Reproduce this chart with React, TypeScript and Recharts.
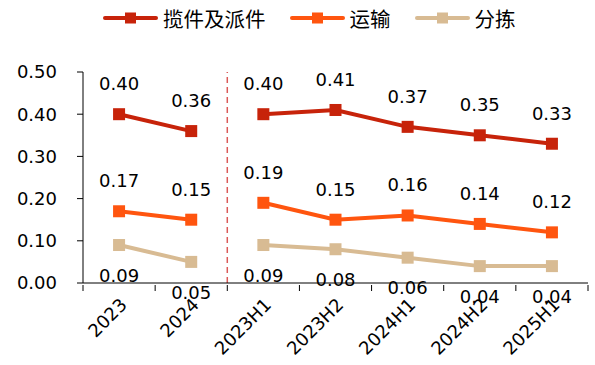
import { ComposedChart, Line, XAxis, YAxis, ReferenceLine } from 'recharts';

const categories = ['2023', '2024', '2023H1', '2023H2', '2024H1', '2024H2', '2025H1'];
// first two points are full years, the rest are half years (drawn as a separate segment)
const annualCount = 2;

const pickupDelivery = [0.4, 0.36, 0.4, 0.41, 0.37, 0.35, 0.33];
const transport = [0.17, 0.15, 0.19, 0.15, 0.16, 0.14, 0.12];
const sorting = [0.09, 0.05, 0.09, 0.08, 0.06, 0.04, 0.04];

const yTicks = [0, 0.1, 0.2, 0.3, 0.4, 0.5];

const series = [
  { key: 'pd', name: '揽件及派件', values: pickupDelivery, color: '#C7230A', labelPos: 'top' },
  { key: 'tr', name: '运输', values: transport, color: '#FF550F', labelPos: 'top' },
  { key: 'so', name: '分拣', values: sorting, color: '#D8BB93', labelPos: 'bottom' },
];

const W = 595;
const H = 365;
const margin = { top: 72, right: 7, left: 0, bottom: 0 };
const yAxisWidth = 83;
const band = (W - margin.left - margin.right - yAxisWidth) / categories.length;
const font = '"DejaVu Sans", Verdana, sans-serif';

const data = categories.map((c, i) => {
  const row: any = { name: c };
  series.forEach((s) => {
    if (i < annualCount) row[s.key + 'A'] = s.values[i];
    else row[s.key + 'H'] = s.values[i];
  });
  return row;
});

const SquareDot = (props: any) => {
  const { cx, cy, fill, index } = props;
  if (cx == null || cy == null) return <g key={index} />;
  return <rect key={index} x={cx - 6} y={cy - 6} width={12} height={12} fill={fill} />;
};

const XTick = (props: any) => {
  const { x, y, payload, index } = props;
  const axisY = y - 3;
  const tx = x + 9;
  const ty = y + 15;
  return (
    <g>
      <line x1={x - band / 2} x2={x - band / 2} y1={axisY - 3} y2={axisY + 3} stroke="#000" />
      {index === categories.length - 1 && (
        <line x1={x + band / 2} x2={x + band / 2} y1={axisY - 3} y2={axisY + 3} stroke="#000" />
      )}
      <text
        x={tx}
        y={ty}
        transform={`rotate(-45, ${tx}, ${ty})`}
        textAnchor="end"
        fontSize={18}
        fontFamily={font}
        fill="#000"
      >
        {payload.value}
      </text>
    </g>
  );
};

const ChartLegend = () => (
  <div
    style={{
      position: 'absolute',
      top: 4,
      left: 103,
      display: 'flex',
      gap: 24,
    }}
  >
    {series.map((s) => (
      <div key={s.key} style={{ display: 'flex', alignItems: 'center', gap: 5 }}>
        <svg width={55} height={14}>
          <line x1={2} x2={53} y1={7} y2={7} stroke={s.color} strokeWidth={4} strokeLinecap="round" />
          <rect x={22} y={1.5} width={11} height={11} fill={s.color} />
        </svg>
        <span style={{ fontFamily: '"Noto Sans CJK SC"', fontSize: 20.5, color: '#000', lineHeight: '28px' }}>
          {s.name}
        </span>
      </div>
    ))}
  </div>
);

export default function App() {
  return (
    <div style={{ position: 'relative', width: W, height: H, background: '#fff' }}>
      <style>{'body{margin:0}'}</style>
      <ChartLegend />
      <ComposedChart width={W} height={H} data={data} margin={margin}>
        <XAxis
          dataKey="name"
          scale="band"
          axisLine={{ stroke: '#000' }}
          tickLine={false}
          tick={<XTick />}
          height={82}
          interval={0}
        />
        <YAxis
          domain={[0, 0.5]}
          ticks={yTicks}
          width={yAxisWidth}
          axisLine={{ stroke: '#000' }}
          tickLine={{ stroke: '#000' }}
          tickSize={6}
          tickMargin={20}
          tick={{ fontSize: 18, fontFamily: font, fill: '#000' }}
          tickFormatter={(v) => Number(v).toFixed(2)}
        />
        <ReferenceLine
          x={categories[annualCount - 1]}
          position="end"
          stroke="#DA5A58"
          strokeDasharray="6 4"
          strokeWidth={1.5}
        />
        {series.flatMap((s) =>
          ['A', 'H'].map((part) => (
            <Line
              key={s.key + part}
              dataKey={s.key + part}
              name={s.name}
              stroke={s.color}
              fill={s.color}
              strokeWidth={4}
              dot={<SquareDot fill={s.color} />}
              activeDot={false}
              isAnimationActive={false}
              connectNulls={false}
              label={{
                position: s.labelPos,
                offset: 24,
                fontSize: 18,
                fontFamily: font,
                fill: '#000',
                formatter: (v: any) => (v == null ? '' : Number(v).toFixed(2)),
              }}
            />
          ))
        )}
      </ComposedChart>
    </div>
  );
}
